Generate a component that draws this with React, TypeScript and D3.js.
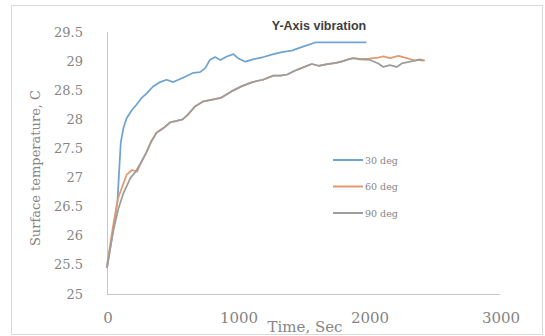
import React, { useEffect, useRef } from "react";
import * as d3 from "d3";

const WIDTH = 545;
const HEIGHT = 336;

// 30 deg
const blueTime = [0, 40, 80, 105, 125, 150, 190, 225, 265, 305, 350, 405, 455, 505, 545, 595, 660, 710, 750, 785, 825, 865, 915, 965, 1000, 1055, 1115, 1195, 1270, 1345, 1410, 1485, 1590, 1980];
const blueTemp = [25.45, 26.0, 26.6, 27.6, 27.85, 28.02, 28.16, 28.25, 28.37, 28.45, 28.56, 28.64, 28.68, 28.64, 28.68, 28.73, 28.8, 28.81, 28.88, 29.02, 29.07, 29.02, 29.08, 29.12, 29.05, 28.99, 29.03, 29.07, 29.12, 29.16, 29.18, 29.24, 29.32, 29.32];

// 60 deg
const orangeTime = [0, 45, 85, 150, 190, 230, 258, 298, 338, 378, 431, 484, 524, 578, 618, 671, 737, 804, 870, 950, 1030, 1110, 1190, 1270, 1323, 1376, 1429, 1483, 1563, 1616, 1682, 1749, 1802, 1842, 1880, 1930, 1990, 2033, 2070, 2109, 2160, 2224, 2288, 2351, 2389, 2427];
const orangeTemp = [25.5, 26.15, 26.65, 27.05, 27.13, 27.1, 27.25, 27.42, 27.62, 27.77, 27.85, 27.95, 27.97, 28.0, 28.08, 28.22, 28.31, 28.34, 28.37, 28.48, 28.57, 28.64, 28.68, 28.75, 28.75, 28.77, 28.83, 28.88, 28.95, 28.92, 28.95, 28.97, 29.0, 29.03, 29.05, 29.04, 29.04, 29.05, 29.06, 29.08, 29.05, 29.09, 29.05, 29.01, 29.03, 29.01];

// 90 deg
const grayTime = [0, 45, 85, 125, 178, 218, 258, 298, 338, 378, 431, 484, 524, 578, 618, 671, 737, 804, 870, 950, 1030, 1110, 1190, 1270, 1323, 1376, 1429, 1483, 1563, 1616, 1682, 1749, 1802, 1842, 1880, 1930, 2008, 2071, 2109, 2160, 2211, 2250, 2313, 2376, 2415];
const grayTemp = [25.45, 26.05, 26.45, 26.73, 26.99, 27.1, 27.25, 27.42, 27.62, 27.77, 27.85, 27.95, 27.97, 28.0, 28.08, 28.22, 28.31, 28.34, 28.37, 28.48, 28.57, 28.64, 28.68, 28.75, 28.75, 28.77, 28.83, 28.88, 28.95, 28.92, 28.95, 28.97, 29.0, 29.03, 29.05, 29.03, 29.02, 28.96, 28.9, 28.93, 28.9, 28.96, 28.99, 29.02, 29.01];

const xTicks = [0, 1000, 2000, 3000];
const yTicks = [25, 25.5, 26, 26.5, 27, 27.5, 28, 28.5, 29, 29.5];

const seriesNames = ["30 deg", "60 deg", "90 deg"];
const seriesColors = ["#6fa3d2", "#e39a6c", "#9d9d9d"];

export default function App() {
  const svgRef = useRef<SVGSVGElement | null>(null);

  useEffect(() => {
    const svg = d3.select(svgRef.current);
    svg.selectAll("*").remove();

    const x = d3.scaleLinear().domain([0, 3000]).range([107, 500]);
    const y = d3.scaleLinear().domain([25, 29.5]).range([294, 32]);

    svg
      .append("rect")
      .attr("x", 11.5)
      .attr("y", 5.5)
      .attr("width", 531)
      .attr("height", 329)
      .attr("fill", "white")
      .attr("stroke", "#d9d9d9");

    // axis lines, no tick marks
    svg
      .append("line")
      .attr("x1", x(0))
      .attr("x2", x(3000))
      .attr("y1", y(25) + 0.5)
      .attr("y2", y(25) + 0.5)
      .attr("stroke", "#c8c8c8");
    svg
      .append("line")
      .attr("x1", x(0) + 0.5)
      .attr("x2", x(0) + 0.5)
      .attr("y1", y(29.5))
      .attr("y2", y(25))
      .attr("stroke", "#c8c8c8");

    svg
      .append("g")
      .selectAll("text")
      .data(yTicks)
      .join("text")
      .attr("x", 83)
      .attr("y", (d) => y(d) + 4.5)
      .attr("text-anchor", "end")
      .attr("font-family", "DejaVu Serif")
      .attr("font-size", 13)
      .attr("fill", "#858585")
      .text((d) => String(d));

    svg
      .append("g")
      .selectAll("text")
      .data(xTicks)
      .join("text")
      .attr("x", (d) => x(d) + 1)
      .attr("y", 323)
      .attr("text-anchor", "middle")
      .attr("font-family", "DejaVu Serif")
      .attr("font-size", 15)
      .attr("fill", "#858585")
      .text((d) => String(d));

    svg
      .append("text")
      .attr("x", 305)
      .attr("y", 332)
      .attr("text-anchor", "middle")
      .attr("font-family", "DejaVu Serif")
      .attr("font-size", 15)
      .attr("fill", "#858585")
      .text("Time, Sec");

    svg
      .append("text")
      .attr("transform", "translate(40,168) rotate(-90)")
      .attr("text-anchor", "middle")
      .attr("font-family", "DejaVu Serif")
      .attr("font-size", 13)
      .attr("fill", "#858585")
      .text("Surface temperature, C");

    svg
      .append("text")
      .attr("x", 319)
      .attr("y", 30)
      .attr("text-anchor", "middle")
      .attr("font-family", "Liberation Sans")
      .attr("font-weight", "bold")
      .attr("font-size", 12.5)
      .attr("fill", "#404040")
      .text("Y-Axis vibration");

    const lineGen = d3
      .line<[number, number]>()
      .x((d) => x(d[0]))
      .y((d) => y(d[1]));

    const series: [number, number][][] = [
      blueTime.map((t, i) => [t, blueTemp[i]]),
      orangeTime.map((t, i) => [t, orangeTemp[i]]),
      grayTime.map((t, i) => [t, grayTemp[i]]),
    ];

    series.forEach((s, i) => {
      svg
        .append("path")
        .attr("fill", "none")
        .attr("stroke", seriesColors[i])
        .attr("stroke-width", 1.75)
        .attr("stroke-linejoin", "round")
        .attr("d", lineGen(s)!);
    });

    const legend = svg.append("g");
    seriesNames.forEach((name, i) => {
      const ly = 160 + i * 26.5;
      legend
        .append("line")
        .attr("x1", 333)
        .attr("x2", 363)
        .attr("y1", ly)
        .attr("y2", ly)
        .attr("stroke", seriesColors[i])
        .attr("stroke-width", 2);
      legend
        .append("text")
        .attr("x", 365)
        .attr("y", ly + 3.5)
        .attr("font-family", "DejaVu Serif")
        .attr("font-size", 9.5)
        .attr("fill", "#858585")
        .text(name);
    });
  }, []);

  return (
    <svg
      ref={svgRef}
      width={WIDTH}
      height={HEIGHT}
      style={{ position: "absolute", left: 0, top: 0 }}
    />
  );
}
